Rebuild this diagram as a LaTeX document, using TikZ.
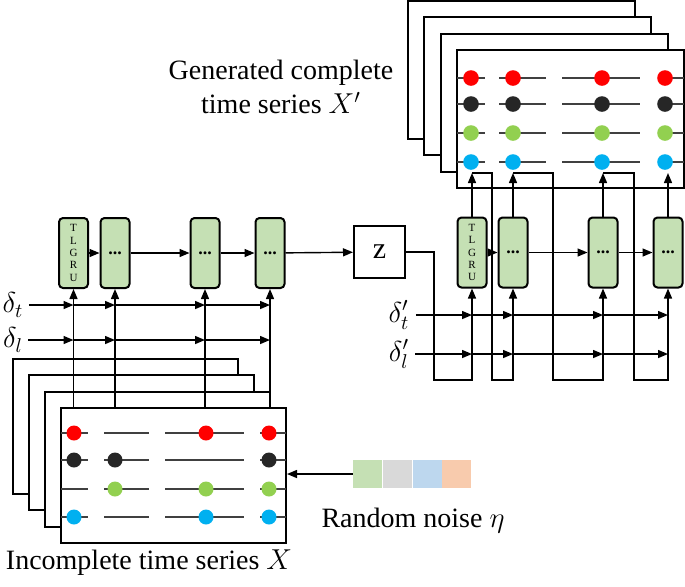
\documentclass[tikz,border=0pt]{standalone}
\usepackage{fontspec}
\setmainfont{Liberation Serif}
\usetikzlibrary{arrows.meta}
\usetikzlibrary{positioning}
\definecolor{cellgreen}{HTML}{C5E0B4}
\definecolor{tsred}{HTML}{FF0000}
\definecolor{tsblack}{HTML}{262626}
\definecolor{tsgreen}{HTML}{92D050}
\definecolor{tsblue}{HTML}{00B0F0}
\definecolor{nzgreen}{HTML}{C5E0B4}
\definecolor{nzgrey}{HTML}{D9D9D9}
\definecolor{nzblue}{HTML}{BDD7EE}
\definecolor{nzorange}{HTML}{F8CBAD}

\tikzset{
	cell/.style={draw, line width=1pt, rounded corners=2pt, fill=cellgreen, minimum width=14.5pt, minimum height=35pt, inner sep=0pt, font=\bfseries\fontsize{9}{9}\selectfont},
	tlgru/.style={cell, align=center, font=\fontsize{5.5}{6.2}\selectfont},
	frame/.style={draw, line width=1pt, fill=white, minimum width=112.5pt, minimum height=67.5pt, inner sep=0pt},
	conn/.style={line width=0.7pt},
	arr/.style={conn, -{Triangle[length=5pt,width=4pt]}},
	seg/.style={line width=0.7pt, black!75},
	noise/.style={fill=#1, minimum width=14.5pt, minimum height=14pt, inner sep=0pt},
	lbl/.style={font=\fontsize{14}{17}\selectfont, inner sep=0pt},
	dlbl/.style={font=\fontsize{14}{14}\selectfont, inner sep=0pt},
}

\begin{document}
\begin{tikzpicture}[x=0.5pt, y=-0.5pt]

	\useasboundingbox (0,0) rectangle (685,586);

	% Incomplete time series X (stack of frames)
	\foreach \i in {3,2,1,0}
		\node [frame] (xf\i) at (173.5-16*\i, 475.5-16.5*\i) {};
	\foreach \y in {433,460,489,517} {
		\draw [seg] (61,\y) -- (88,\y);
		\draw [seg] (104,\y) -- (149,\y);
		\draw [seg] (165,\y) -- (244,\y);
		\draw [seg] (260,\y) -- (286,\y);
	}
	\foreach \c/\y/\xs in {tsred/433/{74,206,269}, tsblack/460/{74,115,269}, tsgreen/489/{115,206,269}, tsblue/517/{74,206,269}}
		\foreach \x in \xs
			\fill [\c] (\x,\y) circle (3.75pt);
	\node [lbl] (xlabel) at (149,563) {Incomplete time series $X$};

	% Generated complete time series X' (stack of frames)
	\foreach \i in {3,2,1,0}
		\node [frame, minimum width=113.5pt, minimum height=69pt] (gf\i) at (570.5-16.3*\i, 119-16.3*\i) {};
	\foreach \y in {78,104,133,162} {
		\draw [seg] (457,\y) -- (485,\y);
		\draw [seg] (499,\y) -- (546,\y);
		\draw [seg] (562,\y) -- (640,\y);
		\draw [seg] (658,\y) -- (684,\y);
	}
	\foreach \c/\y in {tsred/78, tsblack/104, tsgreen/133, tsblue/162}
		\foreach \x in {471,513,602,665}
			\fill [\c] (\x,\y) circle (3.9pt);
	\node [lbl, align=center] (glabel) at (281,87) {Generated complete\\time series $X'$};

	% Encoder
	\node [tlgru] (e1) at (73.5,253) {T\\L\\G\\R\\U};
	\node [cell] (e2) at (115,253) {...};
	\node [cell] (e3) at (205,253) {...};
	\node [cell] (e4) at (270,253) {...};
	\node [draw, line width=1pt, minimum width=25.5pt, minimum height=26pt, font=\fontsize{15}{15}\selectfont] (z) at (379.5,252) {z};
	\draw [arr] (e1) -- (e2);
	\draw [arr] (e2) -- (e3);
	\draw [arr] (e3) -- (e4);
	\draw [arr] (e4) -- (z);
	\foreach \k in {1,...,4}
		\draw [arr] (e\k |- xf0.north) -- (e\k.south);

	% Time gaps into the encoder
	\node [dlbl] (dt) at (13,305) {$\delta_t$};
	\node [dlbl] (dl) at (13,340) {$\delta_l$};
	\foreach \d in {dt,dl} {
		\draw [arr] (\d.east) ++(5,0) -- (e1 |- \d);
		\draw [arr] (e1 |- \d) -- (e2 |- \d);
		\draw [arr] (e2 |- \d) -- (e3 |- \d);
		\draw [arr] (e3 |- \d) -- (e4 |- \d);
	}

	% Decoder
	\node [tlgru] (d1) at (472,252.5) {T\\L\\G\\R\\U};
	\node [cell] (d2) at (513,252.5) {...};
	\node [cell] (d3) at (603,252.5) {...};
	\node [cell] (d4) at (668,252.5) {...};
	\draw [arr] (d1) -- (d2);
	\draw [arr] (d2) -- (d3);
	\draw [arr] (d3) -- (d4);
	\foreach \k in {1,...,4} {
		\coordinate (o\k) at (d\k.north |- 0,173);
		\draw [arr] (d\k.north) -- (o\k);
	}

	% Feedback of the generated values
	\draw [arr] (z.east) -- ++(28,0) -- ++(0,128) -| (d1.south);
	\draw [arr] (o1) -- ++(20,0) -- ++(0,207) -| (d2.south);
	\draw [arr] (o2) -- ++(40,0) -- ++(0,207) -| (d3.south);
	\draw [arr] (o3) -- ++(31,0) -- ++(0,207) -| (d4.south);

	% Time gaps into the decoder
	\node [dlbl] (dtp) at (399,315) {$\delta_t'$};
	\node [dlbl] (dlp) at (399,354) {$\delta_l'$};
	\foreach \d in {dtp,dlp} {
		\draw [arr] (\d.east) ++(6,0) -- (d1 |- \d);
		\draw [arr] (d1 |- \d) -- (d2 |- \d);
		\draw [arr] (d2 |- \d) -- (d3 |- \d);
		\draw [arr] (d3 |- \d) -- (d4 |- \d);
	}

	% Random noise
	\node [noise=nzgreen] (n1) at (367.5,474) {};
	\node [noise=nzgrey, right=0pt of n1] (n2) {};
	\node [noise=nzblue, right=0pt of n2] (n3) {};
	\node [noise=nzorange, right=0pt of n3] (n4) {};
	\draw [arr] (n1.west) -- (n1.west -| xf0.east);
	\node [lbl] (nlabel) at (413,521) {Random noise $\eta$};

\end{tikzpicture}
\end{document}
